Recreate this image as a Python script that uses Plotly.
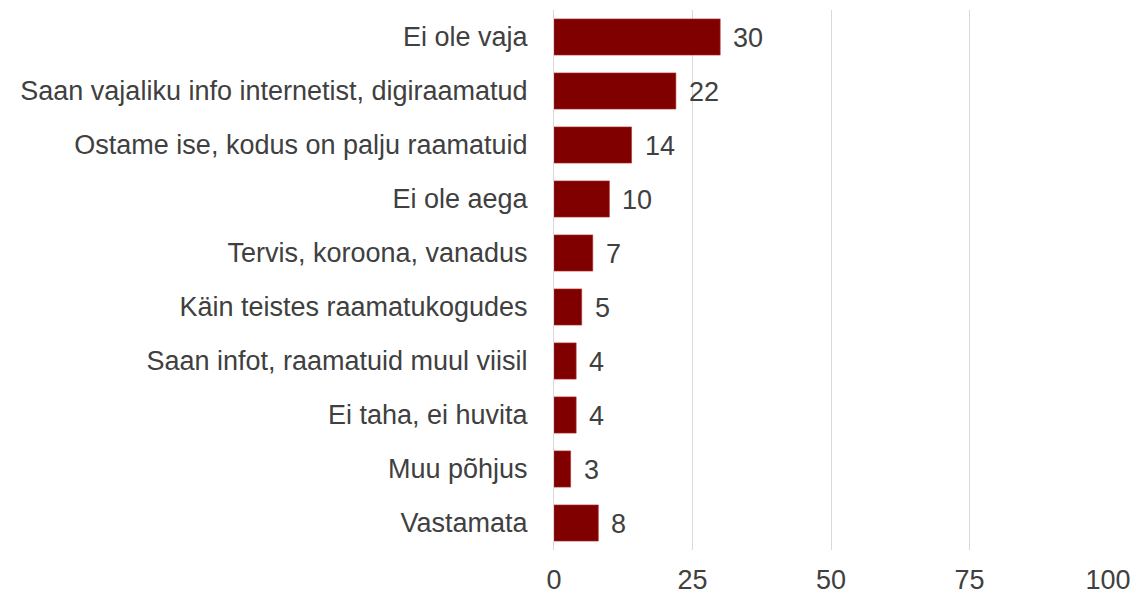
import plotly.graph_objects as go

categories = [
    "Ei ole vaja",
    "Saan vajaliku info internetist, digiraamatud",
    "Ostame ise, kodus on palju raamatuid",
    "Ei ole aega",
    "Tervis, koroona, vanadus",
    "Käin teistes raamatukogudes",
    "Saan infot, raamatuid muul viisil",
    "Ei taha, ei huvita",
    "Muu põhjus",
    "Vastamata",
]
values = [30, 22, 14, 10, 7, 5, 4, 4, 3, 8]
x_ticks = [0, 25, 50, 75, 100]

BAR = "#800000"
TEXT = "#404040"
FONT = "Liberation Sans, Arial, sans-serif"
SIZE = 27

fig = go.Figure(
    go.Bar(
        x=values,
        y=categories,
        orientation="h",
        marker=dict(color=BAR, line=dict(color="#b03030", width=0.6)),
        width=0.67,
        hoverinfo="skip",
    )
)

for cat, val in zip(categories, values):
    fig.add_annotation(
        x=val, y=cat, text=str(val), showarrow=False,
        xanchor="left", yanchor="middle", xshift=11, yshift=-1,
        font=dict(family=FONT, size=SIZE, color=TEXT),
    )

fig.update_layout(
    width=1144, height=594,
    margin=dict(l=554, r=36, t=10, b=44),
    paper_bgcolor="white", plot_bgcolor="white",
    showlegend=False,
    font=dict(family=FONT, size=SIZE, color=TEXT),
)
fig.update_xaxes(
    range=[0, 100], tickvals=x_ticks, ticktext=[str(t) for t in x_ticks],
    showgrid=True, gridcolor="#d9d9d9", gridwidth=1,
    zeroline=False, showline=False, ticks="", ticklabelstandoff=11,
    automargin=False,
    tickfont=dict(family=FONT, size=SIZE, color=TEXT),
)
fig.update_yaxes(
    autorange="reversed", showgrid=False, zeroline=False,
    showline=True, linecolor="#d9d9d9", linewidth=1,
    ticks="", ticklabelstandoff=20, automargin=False,
    tickfont=dict(family=FONT, size=SIZE, color=TEXT),
)

fig.write_html("out.html")
